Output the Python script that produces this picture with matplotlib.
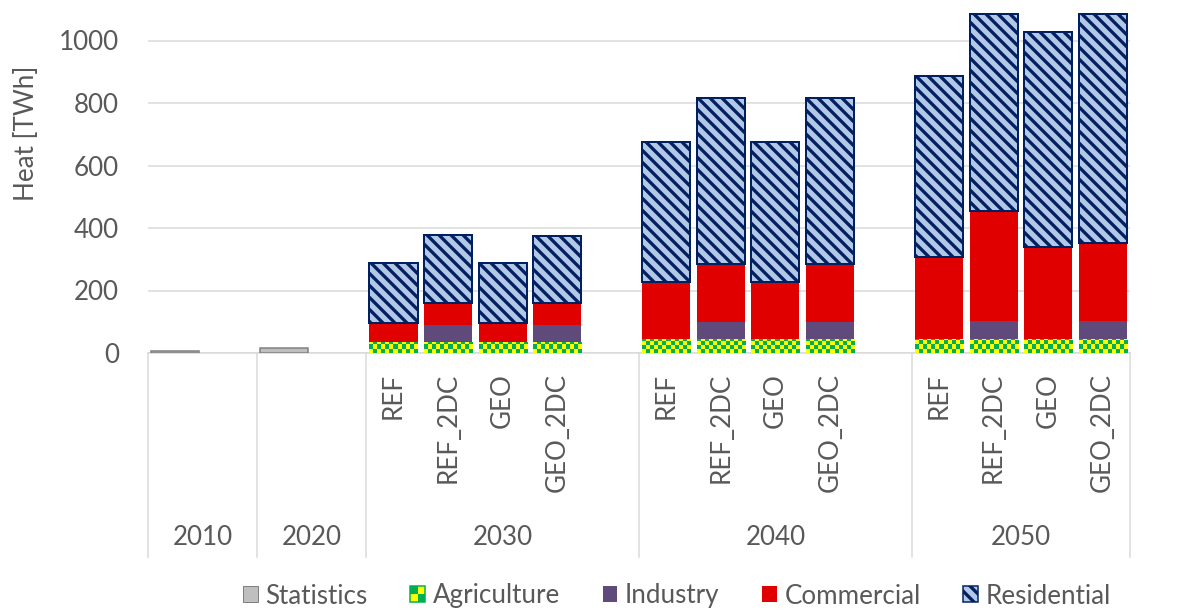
import numpy as np
import matplotlib
matplotlib.use("Agg")
import matplotlib.pyplot as plt
from matplotlib.colors import ListedColormap
from matplotlib.legend_handler import HandlerBase
from matplotlib.patches import Patch, Rectangle
from matplotlib.transforms import blended_transform_factory

# heat demand by sector, TWh
years = ["2010", "2020", "2030", "2040", "2050"]
scenarios = ["REF", "REF_2DC", "GEO", "GEO_2DC"]
statistics = [8, 15]  # historical, 2010 and 2020
# scenario bars: 2030 x4, 2040 x4, 2050 x4
agriculture = [36, 36, 36, 36, 44, 44, 44, 44, 45, 45, 45, 45]
industry = [0, 54, 0, 54, 0, 56, 0, 56, 0, 57, 0, 57]
commercial = [61, 69, 61, 69, 184, 184, 184, 184, 263, 352, 293, 249]
residential = [190, 219, 190, 215, 446, 533, 446, 533, 578, 630, 688, 733]

GREY = "#595959"
LINE = "#d9d9d9"
YELLOW, GREEN = "#ffff00", "#00b050"

plt.rcParams["font.family"] = ["Lato", "DejaVu Sans"]
plt.rcParams["hatch.linewidth"] = 3.3

DPI = 72
W_PX, H_PX = 1182, 611
fig = plt.figure(figsize=(W_PX / DPI, H_PX / DPI), dpi=DPI)
ax = fig.add_axes([148 / W_PX, 1 - 353 / H_PX, 982 / W_PX, 343.75 / H_PX])

# category slots per year (historical years keep an empty slot)
slots = [2, 2, 5, 5, 4]
starts = np.concatenate([[0], np.cumsum(slots)])
stat_x = starts[:2] + 0.5
scen_x = np.concatenate([starts[i] + 0.5 + np.arange(len(scenarios)) for i in (2, 3, 4)])
width = 0.88

ax.set_xlim(0, starts[-1])
ax.set_ylim(0, 1100)
ax.set_autoscale_on(False)

agri = np.array(agriculture)
ind = np.array(industry)
com = np.array(commercial)
res = np.array(residential)

ax.bar(stat_x, statistics, width, color="#bfbfbf", edgecolor="#7f7f7f", lw=1.5, zorder=3)
agri_bars = ax.bar(scen_x, agri, width, color=YELLOW, lw=0, zorder=3)
ax.bar(scen_x, ind, width, bottom=agri, color="#604a7b", lw=0, zorder=3)
ax.bar(scen_x, com, width, bottom=agri + ind, color="#e00000", lw=0, zorder=3)
ax.bar(scen_x, res, width, bottom=agri + ind + com, facecolor="#b4c7e7",
       edgecolor="#002060", hatch="\\\\", lw=2, zorder=3)

# checkerboard fill for agriculture, 4 px cells clipped to each bar
px_x = ax.transData.transform((1, 0))[0] - ax.transData.transform((0, 0))[0]
px_y = ax.transData.transform((0, 1))[1] - ax.transData.transform((0, 0))[1]
cell = 4
checker = ListedColormap([YELLOW, GREEN])
for bar in agri_bars:
    x0, w, h = bar.get_x(), bar.get_width(), bar.get_height()
    nc = int(np.ceil(w * px_x / cell))
    nr = int(np.ceil(h * px_y / cell))
    board = np.add.outer(np.arange(nr), np.arange(nc)) % 2
    im = ax.imshow(board, cmap=checker, origin="lower", interpolation="nearest",
                   extent=(x0, x0 + nc * cell / px_x, 0, nr * cell / px_y),
                   aspect="auto", zorder=3.5)
    im.set_clip_path(bar)

# axes styling
for side in ("top", "right", "left"):
    ax.spines[side].set_visible(False)
ax.spines["bottom"].set_color(LINE)
ax.spines["bottom"].set_linewidth(1.5)
ax.set_yticks(range(0, 1001, 200))
ax.yaxis.grid(True, color=LINE, lw=1.5, zorder=0)
ax.set_axisbelow(True)
ax.tick_params(axis="y", length=0, pad=29, labelsize=26, labelcolor=GREY)
ax.set_xticks(scen_x)
ax.set_xticklabels(scenarios * 3, rotation=90)
ax.tick_params(axis="x", length=0, pad=20, labelsize=26, labelcolor=GREY)

# two-level category axis: year labels and separators
trans = blended_transform_factory(ax.transData, ax.transAxes)
for xs in starts:
    ax.plot([xs, xs], [0, -0.593], transform=trans, color=LINE, lw=1.5, clip_on=False)
for i, yr in enumerate(years):
    ax.text((starts[i] + starts[i + 1]) / 2, -0.538, yr, transform=trans,
            ha="center", va="center", fontsize=26, color=GREY)

fig.text(27 / W_PX, 1 - 133 / H_PX, "Heat [TWh]", rotation=90, ha="center",
         va="center", fontsize=26, color=GREY)


class CheckerHandler(HandlerBase):
    def create_artists(self, legend, orig_handle, xdescent, ydescent, width, height,
                       fontsize, trans):
        n = 2
        arts = []
        for i in range(n):
            for j in range(n):
                c = GREEN if (i + j) % 2 else YELLOW
                arts.append(Rectangle((-xdescent + i * width / n, -ydescent + j * height / n),
                                      width / n, height / n, facecolor=c, lw=0,
                                      transform=trans))
        arts.append(Rectangle((-xdescent, -ydescent), width, height, fill=False,
                              edgecolor=GREEN, lw=1.5, transform=trans))
        return arts


agri_handle = Patch(facecolor=YELLOW)
handles = [
    Patch(facecolor="#bfbfbf", edgecolor="#7f7f7f", lw=1),
    agri_handle,
    Patch(facecolor="#604a7b"),
    Patch(facecolor="#e00000"),
    Patch(facecolor="#b4c7e7", edgecolor="#002060", hatch="\\\\", lw=1.5),
]
labels = ["Statistics", "Agriculture", "Industry", "Commercial", "Residential"]
leg = fig.legend(handles, labels, loc="center", bbox_to_anchor=(677 / W_PX, 1 - 596 / H_PX),
                 ncol=5, frameon=False, fontsize=26, handlelength=0.55, handleheight=0.55,
                 handletextpad=0.3, columnspacing=1.65,
                 handler_map={agri_handle: CheckerHandler()})
for t in leg.get_texts():
    t.set_color(GREY)

fig.savefig("out.png", dpi=DPI)
